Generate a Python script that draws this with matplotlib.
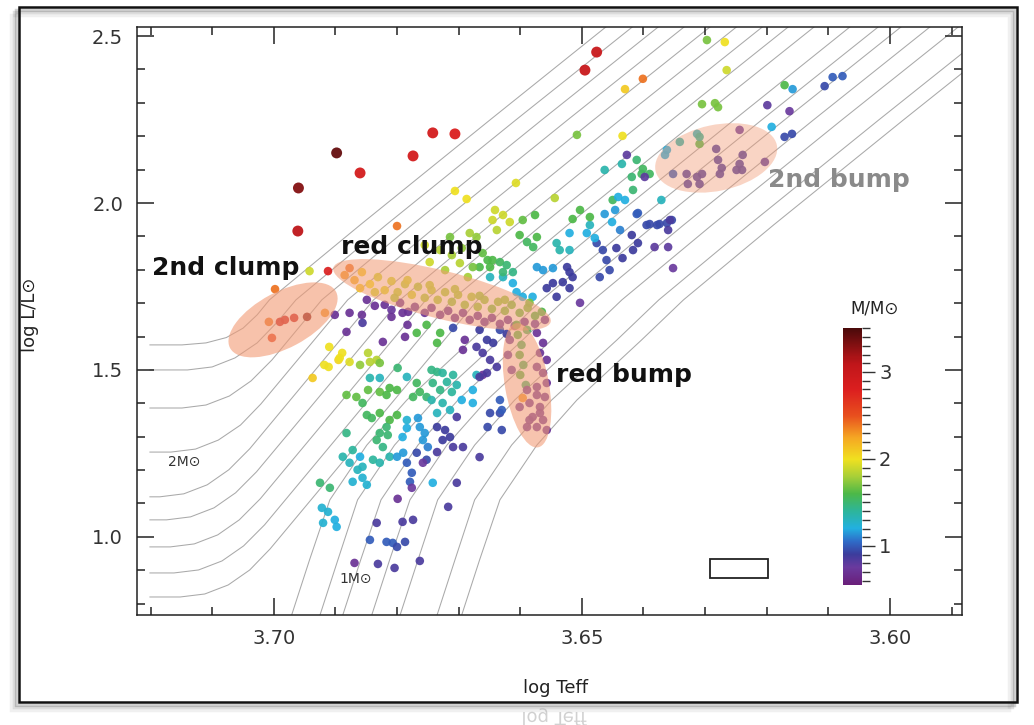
import matplotlib.pyplot as plt
from matplotlib.colors import LinearSegmentedColormap, Normalize
from matplotlib.cm import ScalarMappable
from matplotlib.patches import Ellipse, Rectangle, PathPatch
from matplotlib.transforms import ScaledTranslation, Affine2D
from matplotlib.textpath import TextPath
from matplotlib.font_manager import FontProperties
from matplotlib.ticker import MultipleLocator

plt.rcParams["font.family"] = ["DejaVu Sans"]

# evolutionary tracks (log Teff, log L) -- subgiant branch entering from the left
subgiant_tracks = [
    [(3.7201, 1.575), (3.7149, 1.575), (3.7110, 1.581), (3.7077, 1.597), (3.7050, 1.625), (3.7027, 1.665), (3.7007, 1.710), (3.6860, 1.934), (3.6649, 2.249), (3.6447, 2.548)],
    [(3.7201, 1.500), (3.7140, 1.500), (3.7100, 1.509), (3.7063, 1.536), (3.7027, 1.581), (3.6994, 1.644), (3.6964, 1.710), (3.6818, 1.934), (3.6607, 2.249), (3.6404, 2.548)],
    [(3.7201, 1.386), (3.7149, 1.386), (3.7110, 1.395), (3.7072, 1.422), (3.7037, 1.467), (3.7003, 1.530), (3.6922, 1.710), (3.6776, 1.934), (3.6565, 2.249), (3.6362, 2.548)],
    [(3.7201, 1.254), (3.7167, 1.254), (3.7127, 1.263), (3.7090, 1.290), (3.7054, 1.335), (3.7021, 1.398), (3.6880, 1.710), (3.6734, 1.934), (3.6523, 2.249), (3.6320, 2.548)],
    [(3.7201, 1.120), (3.7185, 1.120), (3.7146, 1.129), (3.7108, 1.156), (3.7073, 1.201), (3.7039, 1.264), (3.6838, 1.710), (3.6692, 1.934), (3.6481, 2.249), (3.6278, 2.548)],
    [(3.7201, 1.051), (3.7174, 1.051), (3.7135, 1.060), (3.7097, 1.087), (3.7062, 1.132), (3.7028, 1.195), (3.6795, 1.710), (3.6649, 1.934), (3.6438, 2.249), (3.6235, 2.548)],
    [(3.7201, 0.970), (3.7168, 0.970), (3.7129, 0.979), (3.7091, 1.006), (3.7056, 1.051), (3.7022, 1.114), (3.6753, 1.710), (3.6607, 1.934), (3.6396, 2.249), (3.6193, 2.548)],
    [(3.7201, 0.892), (3.7162, 0.892), (3.7122, 0.901), (3.7084, 0.928), (3.7049, 0.973), (3.7015, 1.036), (3.6711, 1.710), (3.6565, 1.934), (3.6354, 2.249), (3.6151, 2.548)],
    [(3.7201, 0.820), (3.7152, 0.820), (3.7112, 0.829), (3.7074, 0.856), (3.7039, 0.901), (3.7006, 0.964), (3.6669, 1.710), (3.6523, 1.934), (3.6312, 2.249), (3.6109, 2.548)],
]

# low-mass tracks rising from the bottom of the diagram
rgb_tracks = [
    [(3.6971, 0.766), (3.6942, 0.931), (3.6909, 1.111), (3.6849, 1.275), (3.6784, 1.410), (3.6679, 1.590), (3.6610, 1.710), (3.6464, 1.934), (3.6253, 2.249), (3.6051, 2.548)],
    [(3.6925, 0.766), (3.6896, 0.931), (3.6864, 1.111), (3.6804, 1.275), (3.6739, 1.410), (3.6633, 1.590), (3.6565, 1.710), (3.6419, 1.934), (3.6208, 2.249), (3.6005, 2.548)],
    [(3.6888, 0.766), (3.6859, 0.931), (3.6826, 1.111), (3.6766, 1.275), (3.6701, 1.410), (3.6596, 1.590), (3.6528, 1.710), (3.6382, 1.934), (3.6171, 2.249), (3.5968, 2.548)],
    [(3.6841, 0.766), (3.6812, 0.931), (3.6779, 1.111), (3.6719, 1.275), (3.6654, 1.410), (3.6549, 1.590), (3.6481, 1.710), (3.6335, 1.934), (3.6124, 2.249), (3.5921, 2.548)],
    [(3.6795, 0.766), (3.6766, 0.931), (3.6734, 1.111), (3.6674, 1.275), (3.6609, 1.410), (3.6503, 1.590), (3.6435, 1.710), (3.6289, 1.934), (3.6078, 2.249), (3.5875, 2.548)],
    [(3.6735, 0.766), (3.6706, 0.931), (3.6674, 1.111), (3.6614, 1.275), (3.6549, 1.410), (3.6443, 1.590), (3.6375, 1.710), (3.6229, 1.934), (3.6018, 2.249), (3.5815, 2.548)],
    [(3.6695, 0.766), (3.6666, 0.931), (3.6633, 1.111), (3.6573, 1.275), (3.6508, 1.410), (3.6403, 1.590), (3.6335, 1.710), (3.6189, 1.934), (3.5978, 2.249), (3.5775, 2.548)],
]

# stars: (log Teff, log L/Lsun, mass in Msun)
giant_pts = [
    (3.6742, 2.210, 2.9), (3.6706, 2.207, 2.8), (3.6898, 2.150, 3.4), (3.6774, 2.141, 2.9),
    (3.6860, 2.090, 2.9), (3.6960, 2.045, 3.3), (3.6961, 1.916, 3.1), (3.6476, 2.452, 3.0),
    (3.6495, 2.398, 3.0),
]

clump2_pts = [
    (3.7008, 1.644, 2.4), (3.6990, 1.644, 3.0), (3.6982, 1.650, 3.0), (3.6967, 1.656, 3.0),
    (3.6946, 1.659, 3.3), (3.7003, 1.596, 2.6), (3.6998, 1.742, 2.4), (3.6917, 1.671, 2.3),
    (3.6901, 1.665, 0.7), (3.6942, 1.796, 1.9), (3.6912, 1.796, 2.8),
    (3.6937, 1.476, 2.1), (3.6918, 1.515, 2.0), (3.6910, 1.569, 2.0), (3.6889, 1.551, 2.0),
    (3.6911, 1.509, 2.0), (3.6895, 1.530, 2.05), (3.6877, 1.524, 1.95), (3.6893, 1.536, 2.0),
]

red_clump_pts = [
    (3.6885, 1.784, 2.3), (3.6869, 1.769, 2.2), (3.6857, 1.793, 2.1), (3.6844, 1.757, 2.0),
    (3.6831, 1.778, 1.9), (3.6820, 1.739, 1.95), (3.6809, 1.766, 1.9), (3.6799, 1.733, 1.85),
    (3.6787, 1.757, 1.85), (3.6776, 1.725, 1.9), (3.6766, 1.749, 1.8), (3.6755, 1.716, 1.8),
    (3.6744, 1.739, 1.85), (3.6734, 1.710, 1.8), (3.6722, 1.733, 1.8), (3.6711, 1.704, 1.75),
    (3.6701, 1.725, 1.8), (3.6690, 1.695, 1.75), (3.6679, 1.719, 1.8), (3.6669, 1.689, 1.75),
    (3.6658, 1.710, 1.75), (3.6646, 1.683, 1.7), (3.6636, 1.704, 1.75), (3.6625, 1.677, 1.7),
    (3.6614, 1.695, 1.7), (3.6601, 1.671, 1.65), (3.6588, 1.686, 1.7), (3.6576, 1.662, 1.6),
    (3.6565, 1.674, 1.6), (3.6860, 1.745, 2.1), (3.6836, 1.733, 1.9), (3.6804, 1.716, 1.8),
    (3.6877, 1.805, 2.4), (3.6783, 1.769, 1.9), (3.6747, 1.754, 1.85), (3.6706, 1.742, 1.8),
    (3.6666, 1.722, 1.75), (3.6625, 1.710, 1.75), (3.6585, 1.701, 1.7),
]

clump_low_pts = [
    (3.6820, 1.695, 0.7), (3.6809, 1.680, 0.75), (3.6795, 1.701, 0.7), (3.6782, 1.674, 0.7),
    (3.6771, 1.689, 0.7), (3.6755, 1.671, 0.72), (3.6744, 1.686, 0.7), (3.6730, 1.665, 0.7),
    (3.6717, 1.677, 0.7), (3.6706, 1.656, 0.7), (3.6693, 1.671, 0.72), (3.6682, 1.650, 0.7),
    (3.6669, 1.662, 0.7), (3.6658, 1.644, 0.72), (3.6646, 1.656, 0.7), (3.6633, 1.638, 0.7),
    (3.6620, 1.650, 0.72), (3.6609, 1.632, 0.75), (3.6593, 1.644, 0.7), (3.6576, 1.638, 0.75),
    (3.6560, 1.650, 0.72), (3.6849, 1.710, 0.7), (3.6836, 1.692, 0.7), (3.6877, 1.671, 0.7),
    (3.6857, 1.665, 0.7), (3.6882, 1.614, 0.7), (3.6856, 1.641, 0.85), (3.6809, 1.659, 0.7),
    (3.6791, 1.671, 0.7), (3.6783, 1.635, 0.7), (3.6787, 1.599, 0.7), (3.6823, 1.584, 0.7),
    (3.6690, 1.590, 0.7), (3.6693, 1.560, 0.7),
]

rgb_upper_pts = [
    (3.6800, 1.931, 2.4), (3.6706, 2.036, 2.0), (3.6687, 2.012, 2.0), (3.6607, 2.060, 1.95),
    (3.6641, 1.979, 1.9), (3.6645, 1.949, 1.9), (3.6617, 1.943, 1.9), (3.6628, 1.964, 1.9),
    (3.6638, 1.919, 1.85), (3.6596, 1.949, 1.65), (3.6576, 1.964, 1.6), (3.6589, 1.883, 1.55),
    (3.6579, 1.868, 1.55), (3.6573, 1.898, 1.6), (3.6601, 1.904, 1.6), (3.6544, 2.015, 1.85),
    (3.6541, 1.880, 1.35), (3.6536, 1.859, 1.35), (3.6520, 1.859, 1.3), (3.6682, 1.910, 1.8),
    (3.6671, 1.898, 1.75), (3.6661, 1.850, 1.65), (3.6653, 1.829, 1.6), (3.6645, 1.829, 1.6),
    (3.6633, 1.823, 1.55), (3.6622, 1.814, 1.5), (3.6628, 1.793, 1.5), (3.6612, 1.793, 1.45),
    (3.6666, 1.808, 1.6), (3.6649, 1.808, 1.6), (3.6714, 1.898, 1.7), (3.6698, 1.820, 1.85),
    (3.6677, 1.808, 1.7), (3.6685, 1.778, 1.8), (3.6730, 1.859, 1.85), (3.6747, 1.823, 1.9),
    (3.6711, 1.844, 1.8), (3.6722, 1.799, 1.8), (3.6755, 1.874, 1.9), (3.6695, 1.865, 1.75),
    (3.6503, 1.979, 1.6), (3.6487, 1.958, 1.6), (3.6515, 1.952, 1.6), (3.6463, 1.967, 1.15),
    (3.6446, 1.979, 1.15), (3.6441, 2.018, 1.2), (3.6430, 2.009, 1.2), (3.6417, 2.039, 1.5),
    (3.6411, 1.967, 1.0), (3.6357, 1.949, 0.85), (3.6390, 1.937, 0.95), (3.6374, 1.937, 0.95),
    (3.6371, 2.009, 1.3), (3.6463, 2.099, 1.35), (3.6435, 2.117, 1.35), (3.6427, 2.144, 0.8),
    (3.6411, 2.129, 1.5), (3.6401, 2.102, 1.55), (3.6390, 2.087, 1.55), (3.6403, 2.087, 1.55),
    (3.6419, 2.078, 1.5), (3.6398, 2.078, 0.8), (3.6362, 2.159, 1.2), (3.6365, 2.144, 1.2),
    (3.6341, 2.183, 1.35), (3.6313, 2.207, 1.3), (3.6309, 2.177, 1.6), (3.6508, 2.204, 1.7),
    (3.6434, 2.201, 2.0), (3.6401, 2.372, 2.4), (3.6430, 2.341, 2.1), (3.6297, 2.488, 1.7),
    (3.6268, 2.482, 2.0), (3.6265, 2.398, 1.9), (3.6305, 2.296, 1.7), (3.6284, 2.299, 1.7),
    (3.6279, 2.287, 1.7), (3.6171, 2.353, 1.6), (3.6158, 2.341, 1.15), (3.6199, 2.293, 0.8),
    (3.6163, 2.275, 0.75), (3.6106, 2.350, 0.95), (3.6093, 2.377, 1.0), (3.6077, 2.380, 1.0),
    (3.6192, 2.228, 1.2), (3.6171, 2.198, 0.95), (3.6159, 2.207, 0.95), (3.6244, 2.219, 0.75),
]

bump2_pts = [
    (3.6330, 2.087, 0.85), (3.6313, 2.078, 0.85), (3.6309, 2.057, 0.85), (3.6328, 2.057, 0.85),
    (3.6282, 2.162, 0.85), (3.6279, 2.129, 0.85), (3.6273, 2.105, 0.85), (3.6276, 2.087, 0.85),
    (3.6239, 2.144, 0.85), (3.6244, 2.117, 0.85), (3.6249, 2.099, 0.85), (3.6240, 2.099, 0.85),
    (3.6203, 2.123, 0.8), (3.6305, 2.087, 0.85), (3.6352, 2.087, 1.0), (3.6309, 2.198, 1.4),
]

rgb_blue_pts = [
    (3.6409, 1.970, 1.0), (3.6395, 1.934, 0.95), (3.6378, 1.934, 0.95), (3.6362, 1.940, 0.95),
    (3.6354, 1.949, 0.95), (3.6360, 1.919, 0.85), (3.6382, 1.868, 0.8), (3.6360, 1.868, 0.8),
    (3.6352, 1.805, 0.75), (3.6419, 1.904, 0.9), (3.6409, 1.880, 0.9), (3.6417, 1.859, 0.9),
    (3.6434, 1.835, 0.9), (3.6444, 1.865, 0.9), (3.6476, 1.880, 0.95), (3.6466, 1.859, 0.95),
    (3.6460, 1.829, 0.95), (3.6455, 1.799, 0.95), (3.6471, 1.778, 0.95), (3.6492, 1.910, 1.2),
    (3.6479, 1.895, 1.2), (3.6520, 1.910, 1.2), (3.6524, 1.808, 0.9), (3.6520, 1.793, 0.9),
    (3.6515, 1.778, 0.9), (3.6531, 1.763, 0.9), (3.6547, 1.760, 0.9), (3.6557, 1.745, 0.9),
    (3.6541, 1.719, 0.9), (3.6520, 1.745, 0.9), (3.6503, 1.701, 0.75), (3.6563, 1.799, 1.15),
    (3.6573, 1.808, 1.15), (3.6547, 1.805, 1.15), (3.6612, 1.760, 1.2), (3.6606, 1.733, 1.2),
    (3.6596, 1.719, 1.2), (3.6580, 1.719, 1.2), (3.6649, 1.778, 1.3), (3.6628, 1.778, 1.3),
    (3.6450, 2.009, 1.55), (3.6451, 1.943, 1.2), (3.6438, 1.919, 1.1), (3.6487, 1.934, 1.3),
    (3.6666, 1.620, 0.9), (3.6654, 1.590, 0.9), (3.6644, 1.581, 0.9), (3.6633, 1.620, 0.95),
    (3.6622, 1.608, 0.9), (3.6671, 1.569, 0.85), (3.6661, 1.551, 0.85), (3.6649, 1.530, 0.85),
    (3.6638, 1.509, 0.85), (3.6654, 1.491, 0.85), (3.6666, 1.479, 0.85), (3.6677, 1.440, 1.2),
    (3.6709, 1.626, 0.95),
]

red_bump_pts = [
    (3.6606, 1.635, 1.6), (3.6589, 1.620, 1.55), (3.6604, 1.605, 1.6), (3.6598, 1.575, 1.55),
    (3.6601, 1.545, 1.6), (3.6595, 1.515, 1.55), (3.6600, 1.485, 1.6), (3.6591, 1.455, 1.5),
    (3.6573, 1.611, 0.72), (3.6563, 1.581, 0.72), (3.6568, 1.551, 0.72), (3.6557, 1.530, 0.72),
    (3.6573, 1.509, 0.72), (3.6563, 1.491, 0.72), (3.6557, 1.461, 0.72), (3.6573, 1.449, 0.72),
    (3.6589, 1.440, 0.72), (3.6573, 1.425, 0.72), (3.6585, 1.401, 0.72), (3.6568, 1.389, 0.72),
    (3.6580, 1.359, 0.72), (3.6563, 1.350, 0.72), (3.6573, 1.329, 0.72), (3.6557, 1.320, 0.72),
    (3.6568, 1.371, 0.72), (3.6585, 1.350, 0.72), (3.6601, 1.389, 0.72), (3.6589, 1.329, 0.72),
    (3.6560, 1.419, 0.72), (3.6617, 1.590, 0.75), (3.6620, 1.545, 0.75), (3.6614, 1.500, 0.75),
    (3.6596, 1.416, 2.3), (3.6633, 1.410, 1.0), (3.6630, 1.380, 1.0),
]

rgb_mid_pts = [
    (3.6661, 1.485, 0.7), (3.6847, 1.551, 1.85), (3.6844, 1.524, 1.85), (3.6833, 1.530, 1.85),
    (3.6860, 1.515, 1.75), (3.6828, 1.521, 1.7), (3.6882, 1.425, 1.65), (3.6866, 1.419, 1.65),
    (3.6844, 1.476, 1.35), (3.6828, 1.476, 1.3), (3.6847, 1.440, 1.65), (3.6828, 1.434, 1.65),
    (3.6812, 1.446, 1.6), (3.6800, 1.440, 1.6), (3.6817, 1.425, 1.6), (3.6799, 1.506, 1.5),
    (3.6784, 1.479, 1.3), (3.6768, 1.461, 1.55), (3.6763, 1.434, 1.55), (3.6774, 1.419, 1.55),
    (3.6752, 1.419, 1.5), (3.6744, 1.500, 1.45), (3.6735, 1.494, 1.45), (3.6726, 1.491, 1.4),
    (3.6719, 1.464, 1.4), (3.6709, 1.485, 1.4), (3.6703, 1.455, 1.35), (3.6711, 1.434, 1.4),
    (3.6730, 1.440, 1.45), (3.6742, 1.461, 1.45), (3.6695, 1.410, 1.2), (3.6677, 1.401, 1.2),
    (3.6671, 1.485, 1.3), (3.6744, 1.410, 1.35), (3.6726, 1.401, 1.35), (3.6714, 1.380, 1.3),
    (3.6735, 1.371, 1.3), (3.6856, 1.401, 1.55), (3.6849, 1.365, 1.55), (3.6841, 1.356, 1.55),
    (3.6828, 1.371, 1.6), (3.6812, 1.350, 1.6), (3.6800, 1.365, 1.6), (3.6817, 1.329, 1.5),
    (3.6828, 1.311, 1.5), (3.6815, 1.305, 1.5), (3.6833, 1.290, 1.5), (3.6823, 1.269, 1.45),
    (3.6784, 1.350, 1.25), (3.6784, 1.326, 1.2), (3.6791, 1.299, 1.2), (3.6766, 1.356, 1.15),
    (3.6763, 1.329, 1.15), (3.6755, 1.311, 1.15), (3.6758, 1.290, 1.15), (3.6750, 1.269, 1.1),
    (3.6735, 1.329, 0.9), (3.6722, 1.320, 0.9), (3.6726, 1.290, 0.9), (3.6714, 1.299, 0.9),
    (3.6709, 1.269, 0.85), (3.6703, 1.359, 0.85), (3.6693, 1.269, 0.85), (3.6666, 1.239, 0.85),
    (3.6653, 1.329, 0.95), (3.6630, 1.320, 0.95), (3.6633, 1.371, 0.95), (3.6649, 1.371, 0.95),
    (3.6730, 1.611, 1.6), (3.6735, 1.581, 1.6), (3.6768, 1.611, 1.6), (3.6752, 1.635, 1.6),
]

rgb_low_pts = [
    (3.6925, 1.162, 1.5), (3.6909, 1.147, 1.5), (3.6877, 1.222, 1.3), (3.6864, 1.201, 1.3),
    (3.6856, 1.177, 1.25), (3.6872, 1.165, 1.25), (3.6849, 1.156, 1.25), (3.6839, 1.231, 1.4),
    (3.6828, 1.222, 1.35), (3.6812, 1.240, 1.35), (3.6800, 1.240, 1.15), (3.6790, 1.252, 1.15),
    (3.6784, 1.222, 1.0), (3.6776, 1.192, 1.0), (3.6779, 1.165, 1.0), (3.6768, 1.252, 0.95),
    (3.6752, 1.231, 0.95), (3.6735, 1.254, 0.85), (3.6758, 1.222, 0.75), (3.6742, 1.162, 1.2),
    (3.6703, 1.162, 0.85), (3.6776, 1.147, 0.75), (3.6860, 1.240, 1.2), (3.6922, 1.087, 1.25),
    (3.6912, 1.075, 1.25), (3.6920, 1.042, 1.25), (3.6901, 1.051, 1.2), (3.6898, 1.030, 1.2),
    (3.6717, 1.090, 0.85), (3.6799, 1.114, 0.7), (3.6833, 1.042, 0.85), (3.6791, 1.045, 0.85),
    (3.6774, 1.051, 0.85), (3.6844, 0.991, 1.0), (3.6817, 0.985, 1.0), (3.6807, 0.982, 1.0),
    (3.6800, 0.970, 0.95), (3.6787, 0.985, 0.95), (3.6869, 0.922, 0.7), (3.6831, 0.919, 0.85),
    (3.6804, 0.907, 0.85), (3.6763, 0.928, 0.85), (3.6882, 1.311, 1.45), (3.6872, 1.260, 1.4),
    (3.6856, 1.210, 1.3), (3.6888, 1.240, 1.35),
]

# shaded regions: name -> centre (log Teff, log L), size in pixels, tilt in degrees, opacity
regions = {
    "2nd clump": ((3.6985, 1.650), 120, 56, 28, 0.6),
    "red clump": ((3.6727, 1.725), 224, 48, -14, 0.55),
    "red bump": ((3.6589, 1.454), 126, 44, 100, 0.58),
    "2nd bump": ((3.6282, 2.135), 124, 66, 12, 0.42),
}

# typical uncertainty box
err_teff, err_logl = 0.0094, 0.057
err_centre = (3.6245, 0.906)

mass_nodes = [0.55, 0.75, 0.9, 1.05, 1.2, 1.4, 1.6, 1.8, 2.0, 2.25, 2.5, 2.8, 3.1, 3.5]
mass_colors = ["#6a1f7a", "#6a3a9e", "#3c3c9c", "#2f6cc8", "#22b0e0", "#2db59a", "#4cb848",
               "#a8cf38", "#f0e020", "#f5a623", "#e8501e", "#dc1f1f", "#c0161a", "#4a0a0a"]
mmin, mmax = mass_nodes[0], mass_nodes[-1]
cmap = LinearSegmentedColormap.from_list(
    "mass", [((m - mmin) / (mmax - mmin), c) for m, c in zip(mass_nodes, mass_colors)])
norm = Normalize(mmin, mmax)

fig = plt.figure(figsize=(10.34, 7.25), dpi=100)
ax = fig.add_axes([0.1325, 0.1517, 0.7979, 0.8110])

for trk in subgiant_tracks + rgb_tracks:
    ax.plot([p[0] for p in trk], [p[1] for p in trk], color="#a9a9a9", lw=0.75,
            solid_joinstyle="round", zorder=1)

groups = [rgb_low_pts, rgb_mid_pts, rgb_blue_pts, rgb_upper_pts, bump2_pts,
          clump_low_pts, red_clump_pts, red_bump_pts, clump2_pts]
for grp in groups:
    ax.scatter([p[0] for p in grp], [p[1] for p in grp], c=[p[2] for p in grp],
               cmap=cmap, norm=norm, s=38, edgecolors="none", alpha=0.92, zorder=3)
ax.scatter([p[0] for p in giant_pts], [p[1] for p in giant_pts], c=[p[2] for p in giant_pts],
           cmap=cmap, norm=norm, s=62, edgecolors="none", alpha=0.95, zorder=3)

for name, (centre, w, h, ang, op) in regions.items():
    tr = fig.dpi_scale_trans + ScaledTranslation(centre[0], centre[1], ax.transData)
    ax.add_patch(Ellipse((0, 0), w / 100, h / 100, angle=ang, transform=tr,
                         facecolor="#f29a74", edgecolor="none", alpha=op, zorder=4))

ax.add_patch(Rectangle((err_centre[0] - err_teff / 2, err_centre[1] - err_logl / 2),
                       err_teff, err_logl, fill=False, edgecolor="#222222", lw=1.3, zorder=5))

label_kw = dict(fontsize=18, fontweight="bold", va="center", ha="left", zorder=6)
ax.text(3.7198, 1.805, "2nd clump", color="#111111", **label_kw)
ax.text(3.6891, 1.868, "red clump", color="#111111", **label_kw)
ax.text(3.6542, 1.485, "red bump", color="#111111", **label_kw)
ax.text(3.6198, 2.069, "2nd bump", color="#8a8a8a", **label_kw)
ax.text(3.7171, 1.225, "2M\u2299", fontsize=10, color="#333333", va="center", ha="left")
ax.text(3.6893, 0.874, "1M\u2299", fontsize=10, color="#333333", va="center", ha="left")

ax.set_xlim(3.7222, 3.5883)
ax.set_ylim(0.766, 2.527)
ax.xaxis.set_major_locator(MultipleLocator(0.05))
ax.xaxis.set_minor_locator(MultipleLocator(0.01))
ax.yaxis.set_major_locator(MultipleLocator(0.5))
ax.yaxis.set_minor_locator(MultipleLocator(0.1))
ax.xaxis.set_major_formatter(lambda v, pos: f"{v:.2f}")
ax.yaxis.set_major_formatter(lambda v, pos: f"{v:.1f}")
ax.tick_params(which="both", direction="in", top=True, right=True, colors="#222222",
               labelcolor="#333333", labelsize=14, width=1.1)
ax.tick_params(which="major", length=12, pad=10)
ax.tick_params(which="minor", length=6)
for sp in ax.spines.values():
    sp.set_color("#222222")
    sp.set_linewidth(1.1)

fig.text(0.029, 0.566, "log L/L\u2299", rotation=90, fontsize=13, color="#222222",
         ha="center", va="center")
fig.text(0.537, 0.051, "log Teff", fontsize=13, color="#222222", ha="center", va="center")

# mass colour bar
cax = fig.add_axes([0.815, 0.193, 0.0184, 0.354])
cb = fig.colorbar(ScalarMappable(norm=norm, cmap=cmap), cax=cax, ticks=[1, 2, 3])
cb.outline.set_visible(False)
cax.yaxis.set_minor_locator(MultipleLocator(0.1))
cax.tick_params(which="major", length=9, width=1, colors="#333333", labelsize=14)
cax.tick_params(which="minor", length=6, width=1, colors="#333333")
fig.text(0.846, 0.575, "M/M\u2299", fontsize=12, color="#222222", ha="center", va="center")

# framed border with a soft drop shadow
for k, a in enumerate([0.18, 0.12, 0.06]):
    off = (k + 1) * 0.0025
    fig.patches.append(Rectangle((0.0184 - off, 0.0317 - off * 1.4), 0.9652, 0.9586,
                                 transform=fig.transFigure, fill=False,
                                 edgecolor="black", alpha=a, lw=2.5))
fig.patches.append(Rectangle((0.0184, 0.0317), 0.9652, 0.9586, transform=fig.transFigure,
                             fill=False, edgecolor="#111111", lw=1.8))

# faint mirrored copy of the x label under the frame
tp = TextPath((0, 0), "log Teff", size=13 / 72, prop=FontProperties(family="DejaVu Sans"))
ext = tp.get_extents()
mirror = Affine2D().translate(-(ext.x0 + ext.x1) / 2, 0).scale(1, -1).translate(5.55, 0.13)
fig.patches.append(PathPatch(tp, transform=mirror + fig.dpi_scale_trans,
                             facecolor="#9a9a9a", edgecolor="none", alpha=0.45))

fig.savefig("out.png", dpi=100)
